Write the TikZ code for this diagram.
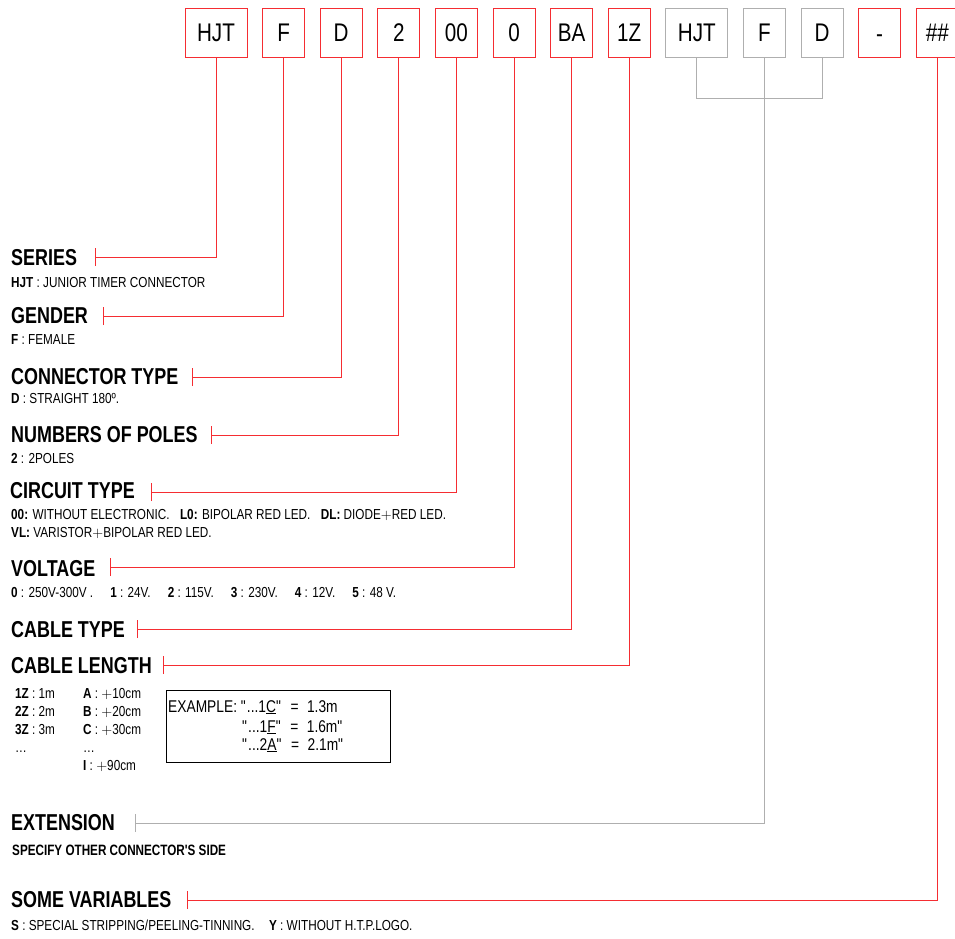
\documentclass[tikz,border=0pt]{standalone}
\usepackage{fontspec}
\setmainfont{Liberation Sans}[FakeStretch=0.81]
\newfontfamily\headfont{Liberation Sans}[FakeStretch=0.78]
\usetikzlibrary{positioning}
\usetikzlibrary{arrows.meta}

\definecolor{codered}{RGB}{245,45,50}
\definecolor{codegray}{RGB}{175,175,175}
\newcommand{\plus}{\hbox{$+$}}
\newcommand{\q}{\textquotedbl}

\tikzset{
  code/.style={draw=codered,line width=1pt,outer sep=0pt,minimum width=42pt,minimum height=49pt,inner sep=0pt,font=\fontsize{25.5}{26}\selectfont},
  extcode/.style={code,draw=codegray},
  head/.style={anchor=base west,inner sep=0pt,font=\headfont\bfseries\fontsize{23}{23}\selectfont},
  desc/.style={anchor=base west,inner sep=0pt,font=\fontsize{14.5}{16}\selectfont},
  lead/.style={codered,line width=1pt,{Bar[width=18pt]}-},
  extlead/.style={lead,codegray}
}

\begin{document}
\begin{tikzpicture}[x=1pt,y=-1pt,node distance=15.6pt]
\useasboundingbox (0,0) rectangle (955,938);

% the code boxes
\node[code,minimum width=62pt] (series) at (216,32.5) {HJT};
\node[code,right=of series] (gender) {F};
\node[code,right=of gender] (contype) {D};
\node[code,right=of contype] (poles) {2};
\node[code,right=of poles] (circuit) {00};
\node[code,right=of circuit] (voltage) {0};
\node[code,right=of voltage] (cabletype) {BA};
\node[code,right=of cabletype] (cablelength) {1Z};
\node[extcode,minimum width=62pt,right=of cablelength] (extseries) {HJT};
\node[extcode,right=of extseries] (extgender) {F};
\node[extcode,right=of extgender] (extcontype) {D};
\node[code,right=of extcontype] (dash) {\smash{\raisebox{-9.5pt}{-}}};
\node[code,right=of dash] (variables) {\textit{\#\#}};

% headings and what they mean
\node[head] (h-series) at (11,265) {SERIES};
\node[desc] at (11,287) {\textbf{HJT} : JUNIOR TIMER CONNECTOR};
\node[head] (h-gender) at (11,323) {GENDER};
\node[desc] at (11,344) {\textbf{F} : FEMALE};
\node[head] (h-contype) at (11,384) {CONNECTOR TYPE};
\node[desc] at (11,403) {\textbf{D} : STRAIGHT 180º.};
\node[head] (h-poles) at (11,442) {NUMBERS OF POLES};
\node[desc] at (11,463) {\textbf{2} : 2POLES};
\node[head] (h-circuit) at (10,498) {CIRCUIT TYPE};
\node[desc] at (11,519) {\textbf{00:} WITHOUT ELECTRONIC.\enspace\ \textbf{L0:} BIPOLAR RED LED.\enspace\ \textbf{DL:} DIODE\plus RED LED.};
\node[desc] at (11,537) {\textbf{VL:} VARISTOR\plus BIPOLAR RED LED.};
\node[head] (h-voltage) at (11,576) {VOLTAGE};
\node[desc] at (11,597) {\textbf{0} : 250V-300V .\hspace{17pt}\textbf{1} : 24V.\hspace{17pt}\textbf{2} : 115V.\hspace{17pt}\textbf{3} : 230V.\hspace{17pt}\textbf{4} : 12V.\hspace{17pt}\textbf{5} : 48 V.};
\node[head] (h-cabletype) at (11,637) {CABLE TYPE};
\node[head] (h-cablelength) at (11,673) {CABLE LENGTH};
\foreach \y/\t in {698/\textbf{1Z} : 1m,716/\textbf{2Z} : 2m,734/\textbf{3Z} : 3m}
  \node[desc] at (15,\y) {\t};
\node[desc] at (15,752) {\ldots};
\foreach \y/\t in {698/\textbf{A} : \plus10cm,716/\textbf{B} : \plus20cm,734/\textbf{C} : \plus30cm,770/\textbf{I} : \plus90cm}
  \node[desc] at (83,\y) {\t};
\node[desc] at (83,752) {\ldots};
\node[draw,line width=0.8pt,anchor=north west,minimum width=224pt,minimum height=72pt,inner sep=0pt] (example) at (166,690) {};
\node[desc,font=\fontsize{17}{17}\selectfont] at (168,712) {EXAMPLE: \q...1\underline{C}\q\enspace=\enspace1.3m};
\node[desc,font=\fontsize{17}{17}\selectfont] at (242,732) {\q...1\underline{F}\q\enspace=\enspace1.6m\q};
\node[desc,font=\fontsize{17}{17}\selectfont] at (242,750) {\q...2\underline{A}\q\enspace=\enspace2.1m\q};
\node[head] (h-extension) at (11,830) {EXTENSION};
\node[desc,font=\headfont\bfseries\fontsize{15}{16}\selectfont] at (12,855) {SPECIFY OTHER CONNECTOR'S SIDE};
\node[head] (h-variables) at (11,907) {SOME VARIABLES};
\node[desc] at (11,930) {\textbf{S} : SPECIAL STRIPPING/PEELING-TINNING.\quad \textbf{Y} : WITHOUT H.T.P.LOGO.};

% leaders from the boxes to the headings
\foreach \n/\x/\y in {series/95/257,gender/103/316,contype/192/377,poles/211/435,circuit/151/492,voltage/110/567,cabletype/137/629,cablelength/163/665,variables/187/900}{
  \coordinate (t-\n) at (\x,\y);
  \draw[lead] (t-\n) -| (\n.south);
}
\coordinate (t-extension) at (135,823);
\draw[codegray,line width=1pt] (extseries.south) -- ++(0,41) -| (extcontype.south);
\draw[extlead] (t-extension) -| (extgender.south);
\end{tikzpicture}
\end{document}
